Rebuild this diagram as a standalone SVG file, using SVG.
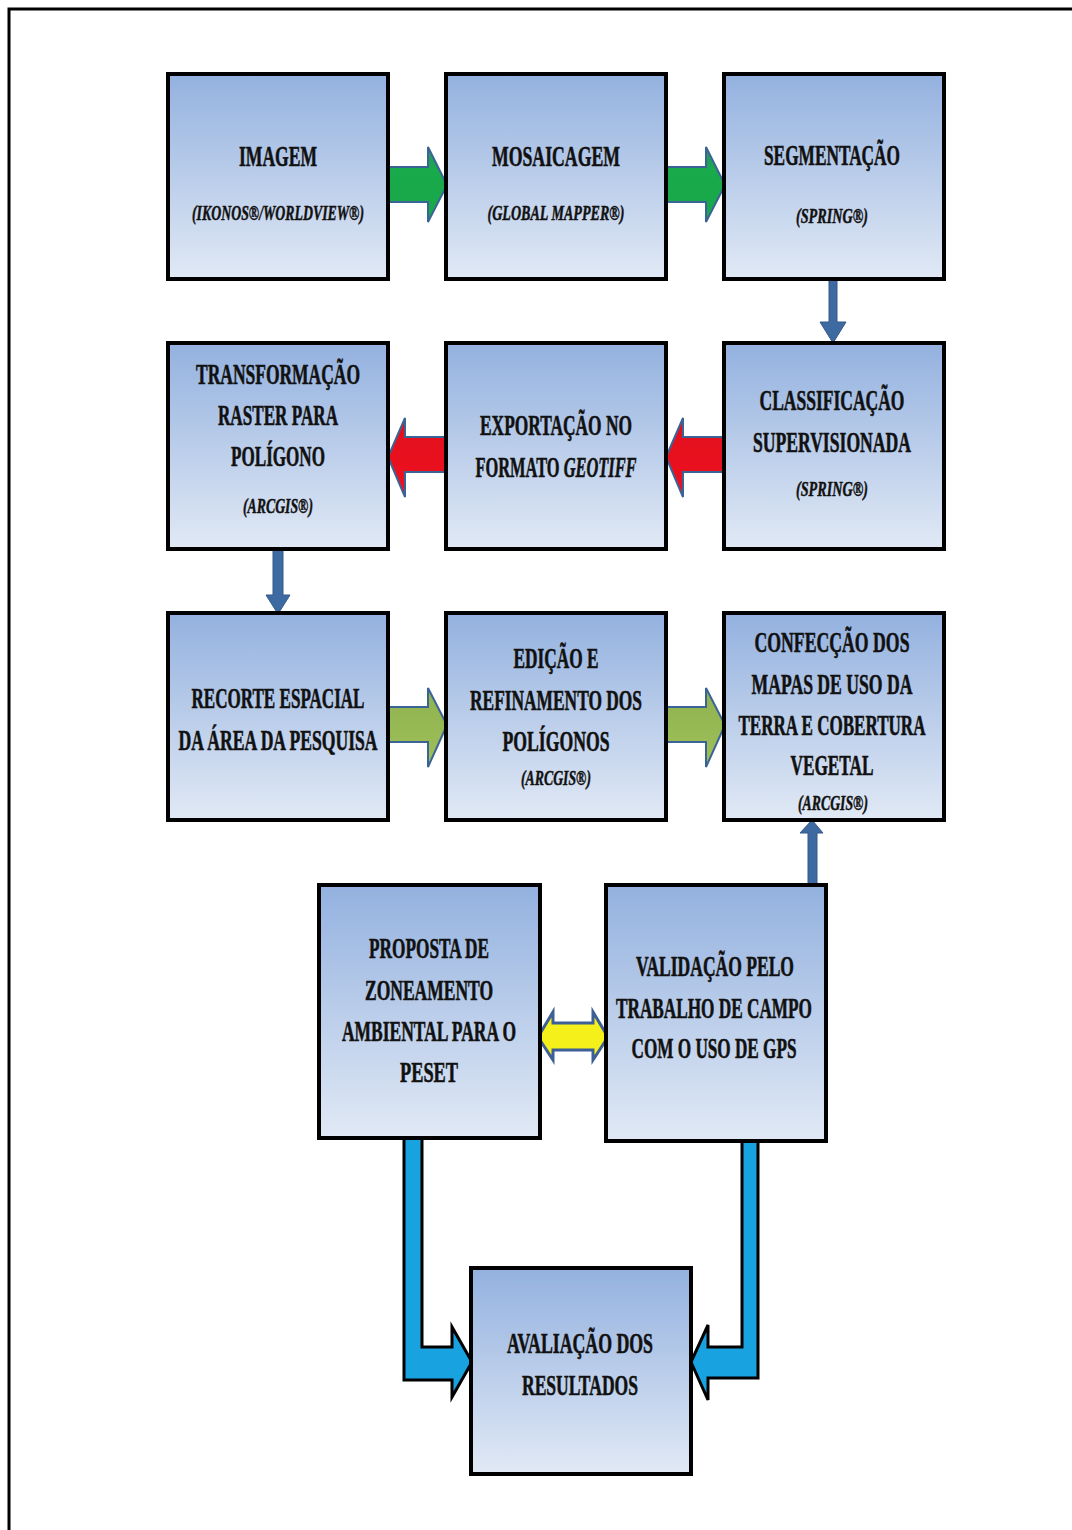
<svg xmlns="http://www.w3.org/2000/svg" width="1072" height="1530" viewBox="0 0 1072 1530">
<defs>
<linearGradient id="bg" x1="0" y1="0" x2="0" y2="1">
<stop offset="0" stop-color="#93b1df"/>
<stop offset="1" stop-color="#e1e9f5"/>
</linearGradient>
<linearGradient id="gg" x1="0" y1="0" x2="0" y2="1">
<stop offset="0" stop-color="#2e8f6a"/>
<stop offset="0.3" stop-color="#19aa4c"/>
<stop offset="1" stop-color="#19a84a"/>
</linearGradient>
<linearGradient id="rg" x1="0" y1="0" x2="0" y2="1">
<stop offset="0" stop-color="#e0101c"/>
<stop offset="1" stop-color="#f01020"/>
</linearGradient>
<linearGradient id="lg" x1="0" y1="0" x2="0" y2="1">
<stop offset="0" stop-color="#8fb24f"/>
<stop offset="1" stop-color="#9fc05a"/>
</linearGradient>
</defs>
<style>
.box{fill:url(#bg);stroke:#000;stroke-width:4}
.t{font-family:"Liberation Serif","Times New Roman",serif;font-weight:bold;font-size:29px;fill:#111;stroke:#111;stroke-width:0.6;text-anchor:middle}
.i{font-family:"Liberation Serif","Times New Roman",serif;font-weight:bold;font-style:italic;font-size:22px;fill:#111;stroke:#111;stroke-width:0.5;text-anchor:middle}
.it{font-style:italic}
.ar{stroke:#3b6496;stroke-width:2;stroke-linejoin:miter}
.thin{fill:#3d6aa0;stroke:#34598a;stroke-width:1}
.cy{fill:#18a2e0;stroke:#000;stroke-width:3}
</style>
<path d="M9,1530 V9 H1072" fill="none" stroke="#000" stroke-width="3"/>
<g id="connectors">
<path class="ar" fill="url(#gg)" d="M388,167 H428 V147 L447,185 L428,222 V202 H388 Z"/>
<path class="ar" fill="url(#gg)" d="M666,167 H706 V147 L725,185 L706,222 V202 H666 Z"/>
<path class="thin" d="M829,279 H837 V322 H846 L833,343 L820,322 H829 Z"/>
<path class="ar" fill="url(#rg)" d="M724,437 H683 V418 L666,457 L683,497 V472 H724 Z"/>
<path class="ar" fill="url(#rg)" d="M446,437 H405 V418 L388,457 L405,497 V472 H446 Z"/>
<path class="thin" d="M273,549 H283 V595 H290 L278,614 L266,595 H273 Z"/>
<path class="ar" fill="url(#lg)" d="M388,707 H428 V688 L447,725 L428,767 V742 H388 Z"/>
<path class="ar" fill="url(#lg)" d="M666,707 H706 V688 L725,725 L706,767 V742 H666 Z"/>
<path class="thin" d="M808,885 V833 H800 L812,820 L823,833 H817 V885 Z"/>
<path fill="#f5ef1a" stroke="#3b5f96" stroke-width="3" d="M538,1037 L553,1012 V1023 H593 V1012 L608,1037 L593,1060 V1050 H553 V1060 Z"/>
<path class="cy" d="M404,1138 V1380 H452 V1397 L472,1362 L452,1327 V1347 H422 V1138 Z"/>
<path class="cy" d="M758,1141 V1378 H708 V1400 L691,1362 L708,1325 V1347 H742 V1141 Z"/>
</g>
<g id="n1"><rect class="box" x="168" y="74" width="220" height="205"/>
<text class="t" x="278" y="166" textLength="78" lengthAdjust="spacingAndGlyphs">IMAGEM</text>
<text class="i" x="278" y="220" textLength="172" lengthAdjust="spacingAndGlyphs">(IKONOS®/WORLDVIEW®)</text></g>
<g id="n2"><rect class="box" x="446" y="74" width="220" height="205"/>
<text class="t" x="556" y="166" textLength="128" lengthAdjust="spacingAndGlyphs">MOSAICAGEM</text>
<text class="i" x="556" y="220" textLength="137" lengthAdjust="spacingAndGlyphs">(GLOBAL MAPPER®)</text></g>
<g id="n3"><rect class="box" x="724" y="74" width="220" height="205"/>
<text class="t" x="832" y="165" textLength="136" lengthAdjust="spacingAndGlyphs">SEGMENTAÇÃO</text>
<text class="i" x="832" y="223" textLength="72" lengthAdjust="spacingAndGlyphs">(SPRING®)</text></g>
<g id="n4"><rect class="box" x="168" y="343" width="220" height="206"/>
<text class="t" x="278" y="384" textLength="164" lengthAdjust="spacingAndGlyphs">TRANSFORMAÇÃO</text>
<text class="t" x="278" y="425" textLength="120" lengthAdjust="spacingAndGlyphs">RASTER PARA</text>
<text class="t" x="278" y="466" textLength="94" lengthAdjust="spacingAndGlyphs">POLÍGONO</text>
<text class="i" x="278" y="513" textLength="70" lengthAdjust="spacingAndGlyphs">(ARCGIS®)</text></g>
<g id="n5"><rect class="box" x="446" y="343" width="220" height="206"/>
<text class="t" x="556" y="435" textLength="152" lengthAdjust="spacingAndGlyphs">EXPORTAÇÃO NO</text>
<text class="t" x="556" y="477" textLength="161" lengthAdjust="spacingAndGlyphs">FORMATO <tspan class="it">GEOTIFF</tspan></text></g>
<g id="n6"><rect class="box" x="724" y="343" width="220" height="206"/>
<text class="t" x="832" y="410" textLength="145" lengthAdjust="spacingAndGlyphs">CLASSIFICAÇÃO</text>
<text class="t" x="832" y="452" textLength="158" lengthAdjust="spacingAndGlyphs">SUPERVISIONADA</text>
<text class="i" x="832" y="496" textLength="72" lengthAdjust="spacingAndGlyphs">(SPRING®)</text></g>
<g id="n7"><rect class="box" x="168" y="613" width="220" height="207"/>
<text class="t" x="278" y="708" textLength="173" lengthAdjust="spacingAndGlyphs">RECORTE ESPACIAL</text>
<text class="t" x="278" y="750" textLength="199" lengthAdjust="spacingAndGlyphs">DA ÁREA DA PESQUISA</text></g>
<g id="n8"><rect class="box" x="446" y="613" width="220" height="207"/>
<text class="t" x="556" y="668" textLength="85" lengthAdjust="spacingAndGlyphs">EDIÇÃO E</text>
<text class="t" x="556" y="710" textLength="172" lengthAdjust="spacingAndGlyphs">REFINAMENTO DOS</text>
<text class="t" x="556" y="751" textLength="107" lengthAdjust="spacingAndGlyphs">POLÍGONOS</text>
<text class="i" x="556" y="785" textLength="70" lengthAdjust="spacingAndGlyphs">(ARCGIS®)</text></g>
<g id="n9"><rect class="box" x="724" y="613" width="220" height="207"/>
<text class="t" x="832" y="652" textLength="155" lengthAdjust="spacingAndGlyphs">CONFECÇÃO DOS</text>
<text class="t" x="832" y="694" textLength="161" lengthAdjust="spacingAndGlyphs">MAPAS DE USO DA</text>
<text class="t" x="832" y="735" textLength="187" lengthAdjust="spacingAndGlyphs">TERRA E COBERTURA</text>
<text class="t" x="832" y="775" textLength="83" lengthAdjust="spacingAndGlyphs">VEGETAL</text>
<text class="i" x="833" y="810" textLength="70" lengthAdjust="spacingAndGlyphs">(ARCGIS®)</text></g>
<g id="n10"><rect class="box" x="319" y="885" width="221" height="253"/>
<text class="t" x="429" y="958" textLength="120" lengthAdjust="spacingAndGlyphs">PROPOSTA DE</text>
<text class="t" x="429" y="1000" textLength="128" lengthAdjust="spacingAndGlyphs">ZONEAMENTO</text>
<text class="t" x="429" y="1041" textLength="174" lengthAdjust="spacingAndGlyphs">AMBIENTAL PARA O</text>
<text class="t" x="429" y="1082" textLength="58" lengthAdjust="spacingAndGlyphs">PESET</text></g>
<g id="n11"><rect class="box" x="606" y="885" width="220" height="256"/>
<text class="t" x="715" y="976" textLength="158" lengthAdjust="spacingAndGlyphs">VALIDAÇÃO PELO</text>
<text class="t" x="714" y="1018" textLength="196" lengthAdjust="spacingAndGlyphs">TRABALHO DE CAMPO</text>
<text class="t" x="714" y="1058" textLength="165" lengthAdjust="spacingAndGlyphs">COM O USO DE GPS</text></g>
<g id="n12"><rect class="box" x="471" y="1268" width="220" height="206"/>
<text class="t" x="580" y="1353" textLength="146" lengthAdjust="spacingAndGlyphs">AVALIAÇÃO DOS</text>
<text class="t" x="580" y="1395" textLength="116" lengthAdjust="spacingAndGlyphs">RESULTADOS</text></g>
</svg>
